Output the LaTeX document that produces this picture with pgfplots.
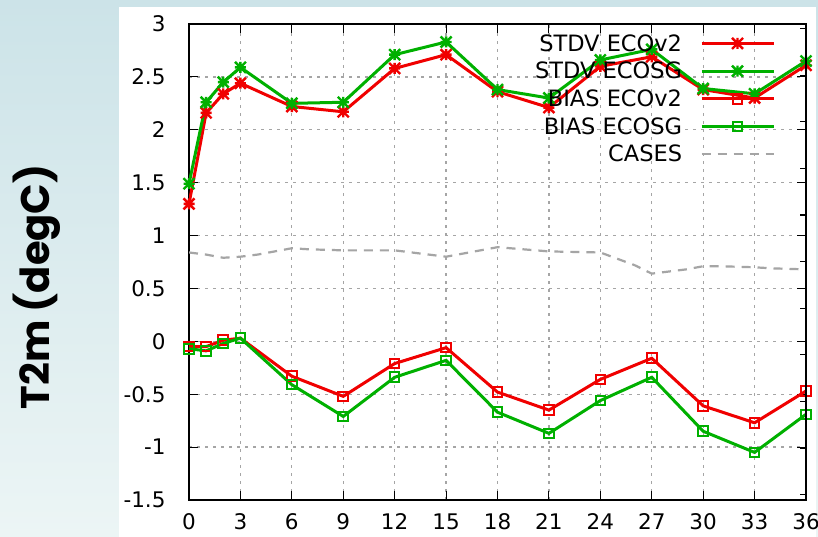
\documentclass[border=0pt]{standalone}
\usepackage{fontspec}
\setmainfont{DejaVu Sans}
\newfontfamily\labelfont{Poppins}
\usepackage{pgfplots}
\pgfplotsset{compat=1.18}

\definecolor{gpred}{RGB}{240,0,0}
\definecolor{gpgreen}{RGB}{0,176,0}
\definecolor{gpgray}{RGB}{165,165,165}
\definecolor{bgtop}{RGB}{204,227,232}
\definecolor{bgbot}{RGB}{236,245,245}

% gnuplot-style asterisk: plus and cross overlaid
\pgfdeclareplotmark{gpstar}{%
  \pgfpathmoveto{\pgfqpoint{-\pgfplotmarksize}{0pt}}\pgfpathlineto{\pgfqpoint{\pgfplotmarksize}{0pt}}%
  \pgfpathmoveto{\pgfqpoint{0pt}{-\pgfplotmarksize}}\pgfpathlineto{\pgfqpoint{0pt}{\pgfplotmarksize}}%
  \pgfpathmoveto{\pgfqpoint{-\pgfplotmarksize}{-\pgfplotmarksize}}\pgfpathlineto{\pgfqpoint{\pgfplotmarksize}{\pgfplotmarksize}}%
  \pgfpathmoveto{\pgfqpoint{-\pgfplotmarksize}{\pgfplotmarksize}}\pgfpathlineto{\pgfqpoint{\pgfplotmarksize}{-\pgfplotmarksize}}%
  \pgfusepathqstroke}

\pgfplotstableread{
h   stdv2  stdvsg  bias2  biassg
0   1.30   1.49   -0.05  -0.07
1   2.16   2.26   -0.05  -0.09
2   2.34   2.45    0.01  -0.02
3   2.44   2.59    0.03   0.03
6   2.22   2.25   -0.33  -0.41
9   2.17   2.26   -0.52  -0.71
12  2.58   2.71   -0.21  -0.34
15  2.71   2.83   -0.06  -0.18
18  2.36   2.38   -0.48  -0.67
21  2.21   2.30   -0.65  -0.87
24  2.60   2.66   -0.36  -0.56
27  2.69   2.76   -0.16  -0.34
30  2.38   2.39   -0.61  -0.85
33  2.30   2.34   -0.77  -1.05
36  2.61   2.65   -0.47  -0.69
}\scores

\pgfplotstableread{
h   cases
0   0.84
1   0.82
2   0.79
3   0.80
4   0.82
5   0.85
6   0.88
7   0.87
9   0.86
12  0.86
13  0.84
14  0.82
15  0.80
16  0.83
17  0.86
18  0.89
21  0.85
24  0.84
25  0.78
26  0.72
27  0.64
28  0.66
29  0.68
30  0.71
31  0.71
33  0.70
34  0.69
36  0.68
}\cases

\begin{document}
\begin{tikzpicture}[x=1pt,y=1pt]
\useasboundingbox (0,0) rectangle (818,537);
\shade[top color=bgtop,bottom color=bgbot] (0,0) rectangle (818,537);
\fill[white] (119,0) rectangle (816,530);
\node[rotate=90,font=\labelfont\bfseries\fontsize{40}{42}\selectfont] at (37,250) {T2m (degC)};

\begin{axis}[
  at={(189pt,37pt)}, anchor=south west,
  scale only axis, width=617pt, height=476pt,
  xmin=0, xmax=36, ymin=-1.5, ymax=3,
  xtick={0,3,6,9,12,15,18,21,24,27,30,33,36},
  ytick={-1.5,-1,-0.5,0,0.5,1,1.5,2,2.5,3},
  yticklabels={-1.5,-1,-0.5,0,0.5,1,1.5,2,2.5,3},
  /pgf/number format/assume math mode=true,
  ticklabel style={font=\fontsize{21.5}{24}\selectfont},
  yticklabel style={xshift=-20pt},
  xticklabel style={yshift=-10pt},
  tick align=inside,
  major tick length=9pt,
  tick style={black,line width=1.1pt},
  axis line style={line width=1.6pt},
  grid=major,
  major grid style={gpgray,line width=1.3pt,dash pattern=on 3pt off 5pt},
  legend plot pos=right,
  legend cell align=right,
  legend style={draw=none,fill=none,at={(0.955,0.985)},anchor=north east,
    font=\fontsize{22.5}{26}\selectfont,row sep=7.5pt,column sep=17pt,
    nodes={inner sep=1pt}},
  legend image code/.code={\draw[mark repeat=2,mark phase=2,#1] plot coordinates {(0pt,0pt) (36pt,0pt) (72pt,0pt)};},
  every axis plot/.append style={line width=3pt},
]
\addplot[gpred,mark=gpstar,mark size=5.5pt,mark options={line width=2.4pt}] table[x=h,y=stdv2] {\scores};
\addlegendentry{STDV ECOv2}
\addplot[gpgreen,mark=gpstar,mark size=5.5pt,mark options={line width=2.4pt}] table[x=h,y=stdvsg] {\scores};
\addlegendentry{STDV ECOSG}
\addplot[gpred,mark=square,mark size=4.8pt,mark options={line width=2pt}] table[x=h,y=bias2] {\scores};
\addlegendentry{BIAS ECOv2}
\addplot[gpgreen,mark=square,mark size=4.8pt,mark options={line width=2pt}] table[x=h,y=biassg] {\scores};
\addlegendentry{BIAS ECOSG}
\addplot[gpgray,no marks,line width=2.2pt,dash pattern=on 9pt off 7pt] table[x=h,y=cases] {\cases};
\addlegendentry{CASES}
\end{axis}

% secondary scale on the right edge: ticks only
\begin{axis}[
  at={(189pt,37pt)}, anchor=south west,
  scale only axis, width=617pt, height=476pt,
  xmin=0, xmax=36, ymin=-1.5, ymax=3,
  hide x axis, axis y line*=right,
  axis line style={line width=1.6pt},
  ytick={2.956,2.516,2.075,1.635,1.194,0.754,0.313,-0.127,-0.568,-1.008,-1.449},
  yticklabels={},
  tick align=inside,
  major tick length=6pt,
  tick style={black,line width=1.1pt},
]
\end{axis}
\end{tikzpicture}
\end{document}
